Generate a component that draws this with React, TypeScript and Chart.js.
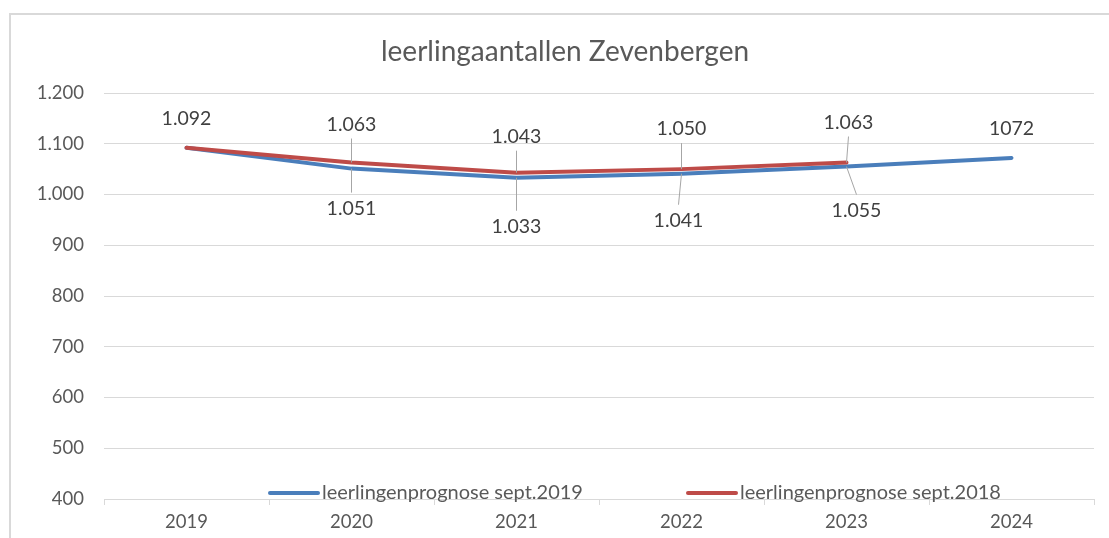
import React, { useEffect, useRef } from "react";
import { Chart, registerables } from "chart.js";

Chart.register(...registerables);

const years = ["2019", "2020", "2021", "2022", "2023", "2024"];
const prognose2019 = [1092, 1051, 1033, 1041, 1055, 1072];
const prognose2018 = [1092, 1063, 1043, 1050, 1063, null];
const label2019 = "leerlingenprognose sept.2019";
const label2018 = "leerlingenprognose sept.2018";
const titleText = "leerlingaantallen Zevenbergen";
const yMin = 400;
const yMax = 1200;
const yStep = 100;

// label placement (styling, pixel offsets from the point)
const labelDx2018 = [0, 0, 0, 0, 2];
const labelDy2018 = [-29, -38, -36, -40, -40];
const labelDx2019 = [0, 0, 0, -3, 10, 0];
const labelDy2019 = [null, 40, 49, 47, 44, -29];
const plainFormat2019 = [5];

const FONT = "Lato, 'Open Sans', sans-serif";
const BLUE = "#4A7EBB";
const RED = "#BE4B48";
const GRID = "#d9d9d9";

const fmt = (v: number, plain = false) => {
  if (plain) return String(v);
  const s = String(Math.round(v));
  return s.replace(/\B(?=(\d{3})+(?!\d))/g, ".");
};

const framePlugin = {
  id: "frame",
  beforeDraw(chart: any) {
    const ctx = chart.ctx;
    ctx.save();
    ctx.fillStyle = "#ffffff";
    ctx.fillRect(0, 0, chart.width, chart.height);
    ctx.strokeStyle = GRID;
    ctx.lineWidth = 2;
    ctx.beginPath();
    ctx.moveTo(10, chart.height + 5);
    ctx.lineTo(10, 14);
    ctx.lineTo(chart.width + 5, 14);
    ctx.stroke();
    ctx.restore();
  },
};

const labelsPlugin = {
  id: "pointLabels",
  afterDatasetsDraw(chart: any) {
    const ctx = chart.ctx;
    ctx.save();
    ctx.font = `19.5px ${FONT}`;
    ctx.textAlign = "center";
    ctx.textBaseline = "middle";
    const cfg = [
      { ds: 1, dx: labelDx2018, dy: labelDy2018, plain: [] as number[] },
      { ds: 0, dx: labelDx2019, dy: labelDy2019, plain: plainFormat2019 },
    ];
    cfg.forEach((c) => {
      const meta = chart.getDatasetMeta(c.ds);
      const data = chart.data.datasets[c.ds].data;
      meta.data.forEach((pt: any, i: number) => {
        const v = data[i];
        const dy = c.dy[i];
        if (v == null || dy == null) return;
        const lx = pt.x + (c.dx[i] || 0);
        const ly = pt.y + dy;
        if (Math.abs(dy) > 32) {
          ctx.strokeStyle = "#a6a6a6";
          ctx.lineWidth = 1;
          ctx.beginPath();
          ctx.moveTo(lx, dy < 0 ? ly + 14 : ly - 16);
          ctx.lineTo(pt.x, pt.y);
          ctx.stroke();
        }
        ctx.fillStyle = "#404040";
        ctx.fillText(fmt(v, c.plain.includes(i)), lx, ly);
      });
    });
    ctx.restore();
  },
};

const legendPlugin = {
  id: "insideLegend",
  afterDraw(chart: any) {
    const ctx = chart.ctx;
    const a = chart.chartArea;
    const y = a.bottom - 6;
    const items = [
      { x: a.left + 166, color: BLUE, text: chart.data.datasets[0].label },
      { x: a.left + 584, color: RED, text: chart.data.datasets[1].label },
    ];
    ctx.save();
    ctx.font = `20px ${FONT}`;
    ctx.textAlign = "left";
    ctx.textBaseline = "middle";
    items.forEach((it) => {
      ctx.strokeStyle = it.color;
      ctx.lineWidth = 4;
      ctx.lineCap = "round";
      ctx.beginPath();
      ctx.moveTo(it.x, y);
      ctx.lineTo(it.x + 48, y);
      ctx.stroke();
      ctx.fillStyle = "#595959";
      ctx.fillText(it.text, it.x + 52, y);
    });
    ctx.restore();
  },
};

export default function App() {
  const ref = useRef<HTMLCanvasElement | null>(null);
  useEffect(() => {
    if (!ref.current) return;
    const chart = new Chart(ref.current, {
      type: "line",
      data: {
        labels: years,
        datasets: [
          {
            label: label2019,
            data: prognose2019,
            borderColor: BLUE,
            backgroundColor: BLUE,
            borderWidth: 4,
            pointRadius: 0,
            borderCapStyle: "round",
            borderJoinStyle: "round",
            tension: 0,
            order: 1,
          },
          {
            label: label2018,
            data: prognose2018 as any,
            borderColor: RED,
            backgroundColor: RED,
            borderWidth: 4,
            pointRadius: 0,
            borderCapStyle: "round",
            borderJoinStyle: "round",
            tension: 0,
            order: 0,
          },
        ],
      },
      options: {
        responsive: false,
        animation: false,
        devicePixelRatio: 1,
        layout: { padding: { left: 36, right: 15, top: 0, bottom: 0 } },
        plugins: {
          legend: { display: false },
          tooltip: { enabled: false },
          title: {
            display: true,
            text: titleText,
            color: "#595959",
            font: { family: FONT, size: 28, weight: "normal" },
            padding: { top: 35, bottom: 24.4 },
          },
        },
        scales: {
          x: {
            offset: true,
            grid: {
              offset: true,
              drawOnChartArea: false,
              drawTicks: true,
              tickLength: 6,
              color: GRID,
            },
            border: { display: true, color: GRID },
            ticks: {
              color: "#595959",
              font: { family: FONT, size: 18.5 },
              padding: 6,
              maxRotation: 0,
            },
            afterFit: (s: any) => {
              s.height = 39;
            },
          },
          y: {
            min: yMin,
            max: yMax,
            grid: { color: GRID, drawTicks: false },
            border: { display: false },
            ticks: {
              stepSize: yStep,
              color: "#595959",
              font: { family: FONT, size: 18.5 },
              padding: 20,
              callback: (v: any) => fmt(Number(v)),
            },
            afterFit: (s: any) => {
              s.width = 68;
            },
          },
        },
      },
      plugins: [framePlugin, labelsPlugin, legendPlugin],
    });
    return () => chart.destroy();
  }, []);
  return (
    <div style={{ position: "absolute", left: 0, top: 0, width: 1109, height: 538, background: "#fff" }}>
      <canvas ref={ref} width={1109} height={538} style={{ display: "block" }} />
    </div>
  );
}
